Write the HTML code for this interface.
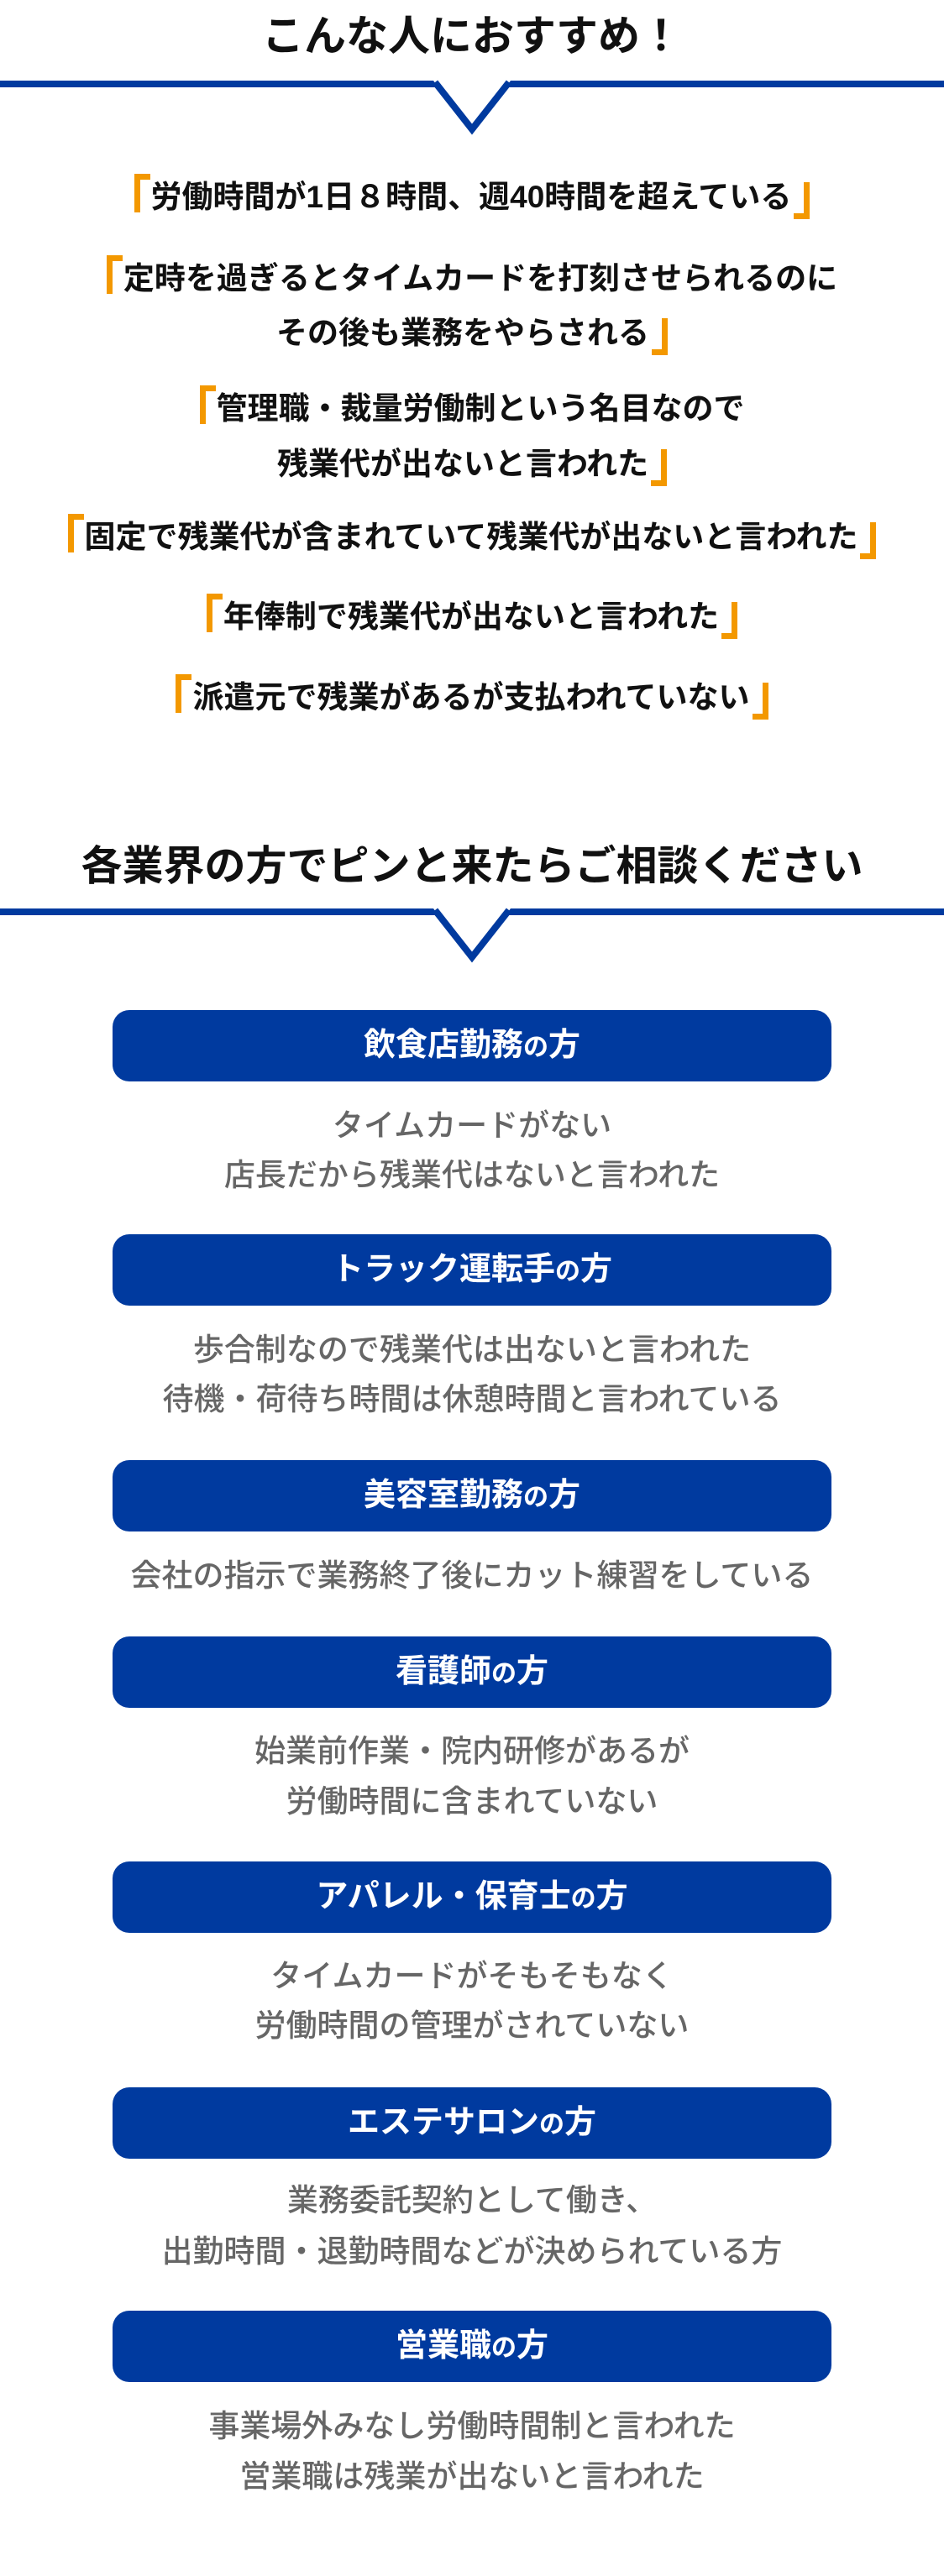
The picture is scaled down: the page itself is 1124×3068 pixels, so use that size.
<!DOCTYPE html>
<html lang="ja"><head><meta charset="utf-8">
<style>
*{margin:0;padding:0;box-sizing:border-box}
html,body{width:1124px;height:3068px;background:#fff;overflow:hidden}
body{position:relative;font-family:"Liberation Sans","Noto Sans CJK JP",sans-serif}
.ab{position:absolute;left:0;width:1124px;text-align:center;white-space:nowrap}
.t1{font-size:50px;font-weight:700;color:#111;line-height:60px}
.t2{font-size:49px;font-weight:700;color:#111;line-height:60px}
.it{font-size:37px;font-weight:700;color:#111;line-height:40px;height:40px}
.l,.r{display:inline-block;position:relative;vertical-align:top;border-color:#f39800;border-style:solid}
.l{width:19px;height:46px;border-width:7px 0 0 7px;top:-8px;margin-right:1px}
.r{width:19px;height:44px;border-width:0 7px 7px 0;top:2px;margin-left:3px}
.bar{position:absolute;left:0;width:1124px;height:8px;background:#003a9f}
.box{position:absolute;left:134px;width:856px;height:85px;border-radius:20px;background:#003a9f;color:#fff;font-size:38px;font-weight:700;text-align:center;line-height:85px;white-space:nowrap}
.box small{font-size:30px}
.g{font-size:37px;font-weight:500;color:#666;line-height:44px}
</style></head><body>

<div class="ab t1" style="top:13px">こんな人におすすめ！</div>
<div class="bar" style="top:96px"></div>
<svg style="position:absolute;left:0;top:90px" width="1124" height="80"><polygon points="516,6 608,6 562,66" fill="#fff"/><polyline points="518,8 562,64 606,8" fill="none" stroke="#003a9f" stroke-width="8"/></svg>

<div class="ab it" style="top:215px"><span class="l"></span>労働時間が1日８時間、週40時間を超えている<span class="r"></span></div>
<div class="ab it" style="top:312px"><span class="l"></span>定時を過ぎるとタイムカードを打刻させられるのに</div>
<div class="ab it" style="top:377px">その後も業務をやらされる<span class="r"></span></div>
<div class="ab it" style="top:467px"><span class="l"></span>管理職・裁量労働制という名目なので</div>
<div class="ab it" style="top:533px">残業代が出ないと言われた<span class="r"></span></div>
<div class="ab it" style="top:620px"><span class="l"></span>固定で残業代が含まれていて残業代が出ないと言われた<span class="r"></span></div>
<div class="ab it" style="top:715px"><span class="l"></span>年俸制で残業代が出ないと言われた<span class="r"></span></div>
<div class="ab it" style="top:811px"><span class="l"></span>派遣元で残業があるが支払われていない<span class="r"></span></div>

<div class="ab t2" style="top:1002px">各業界の方でピンと来たらご相談ください</div>
<div class="bar" style="top:1082px"></div>
<svg style="position:absolute;left:0;top:1076px" width="1124" height="80"><polygon points="516,6 608,6 562,66" fill="#fff"/><polyline points="518,8 562,64 606,8" fill="none" stroke="#003a9f" stroke-width="8"/></svg>

<div class="box" style="top:1203px">飲食店勤務<small>の</small>方</div>
<div class="ab g" style="top:1319px">タイムカードがない</div>
<div class="ab g" style="top:1378px">店長だから残業代はないと言われた</div>

<div class="box" style="top:1470px">トラック運転手<small>の</small>方</div>
<div class="ab g" style="top:1586px">歩合制なので残業代は出ないと言われた</div>
<div class="ab g" style="top:1645px">待機・荷待ち時間は休憩時間と言われている</div>

<div class="box" style="top:1739px">美容室勤務<small>の</small>方</div>
<div class="ab g" style="top:1855px">会社の指示で業務終了後にカット練習をしている</div>

<div class="box" style="top:1949px">看護師<small>の</small>方</div>
<div class="ab g" style="top:2064px">始業前作業・院内研修があるが</div>
<div class="ab g" style="top:2124px">労働時間に含まれていない</div>

<div class="box" style="top:2217px">アパレル・保育士<small>の</small>方</div>
<div class="ab g" style="top:2332px">タイムカードがそもそもなく</div>
<div class="ab g" style="top:2391px">労働時間の管理がされていない</div>

<div class="box" style="top:2486px">エステサロン<small>の</small>方</div>
<div class="ab g" style="top:2599px">業務委託契約として働き、</div>
<div class="ab g" style="top:2660px">出勤時間・退勤時間などが決められている方</div>

<div class="box" style="top:2752px">営業職<small>の</small>方</div>
<div class="ab g" style="top:2868px">事業場外みなし労働時間制と言われた</div>
<div class="ab g" style="top:2928px">営業職は残業が出ないと言われた</div>

</body></html>
